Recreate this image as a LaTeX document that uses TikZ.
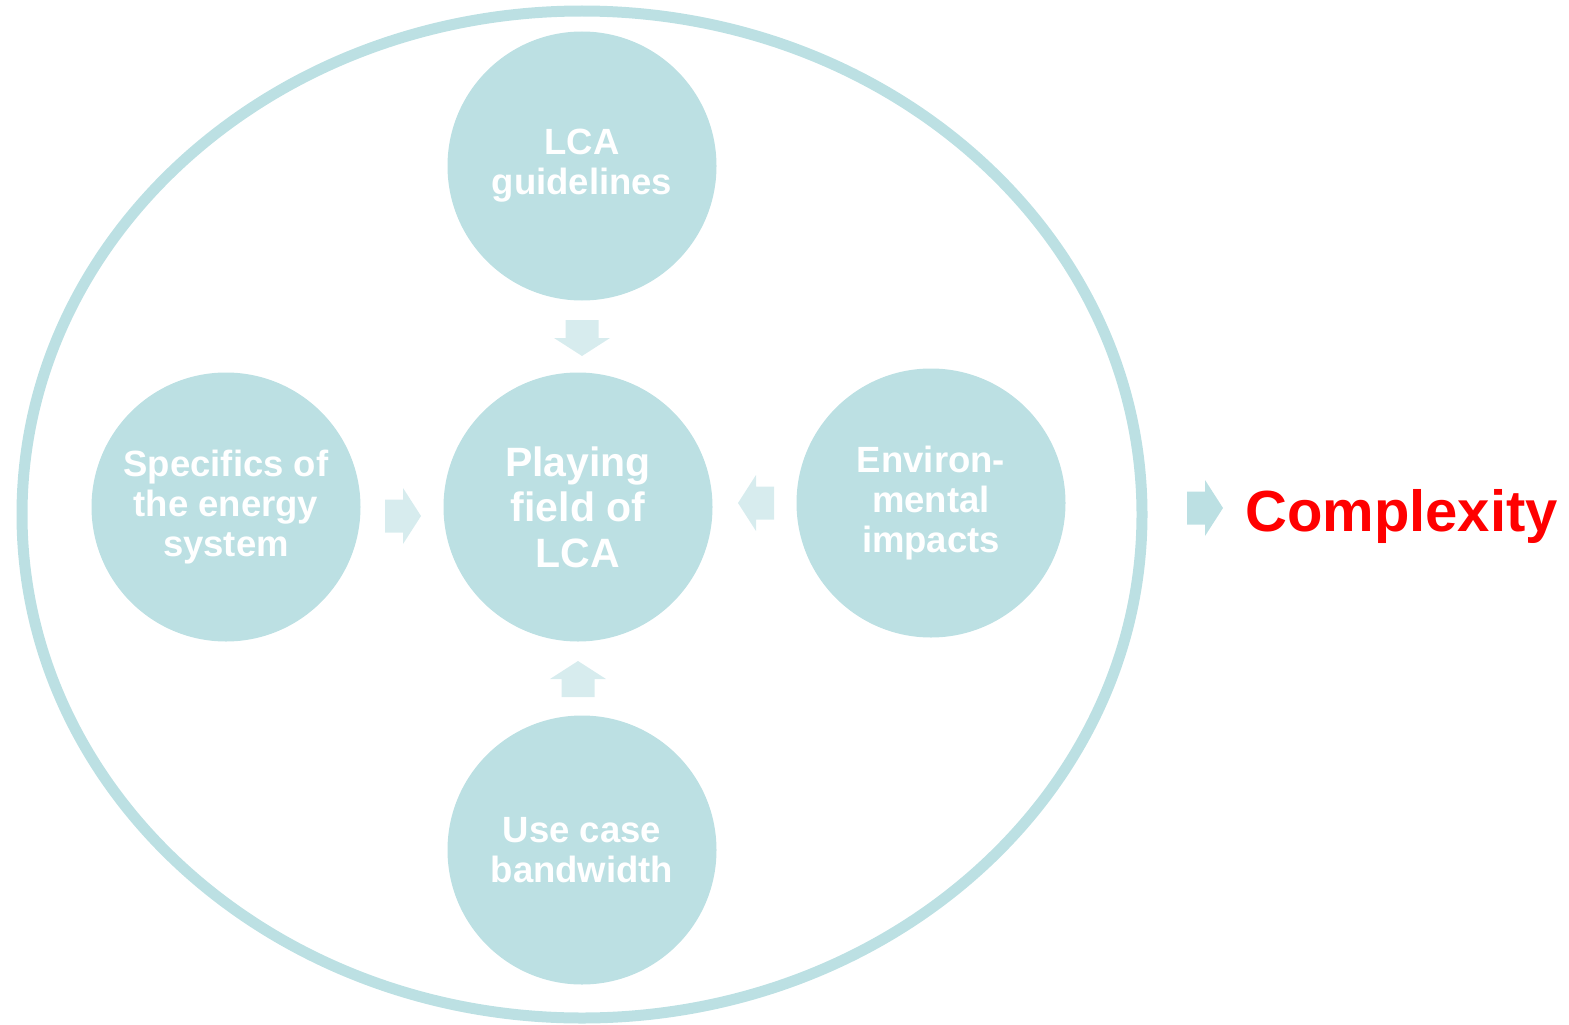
\documentclass[tikz,border=0pt]{standalone}
\usepackage{fontspec}
\setmainfont{Liberation Sans}
\definecolor{circc}{HTML}{BCE0E3}
\definecolor{arrc}{HTML}{D7ECEE}
\definecolor{redc}{HTML}{FF0000}
\tikzset{
  bubble/.style={circle, fill=circc, minimum size=269pt, inner sep=0pt, text=white,
    align=center, font=\fontsize{36.5}{40}\selectfont\bfseries},
  bigbubble/.style={bubble, font=\fontsize{41}{45.5}\selectfont\bfseries},
  blockarrow/.pic={
    \fill[pic actions] (0,0) -- (-18,28) -- (-18,16.5) -- (-36,16.5) -- (-36,-16.5) -- (-18,-16.5) -- (-18,-28) -- cycle;
  }
}
\begin{document}
\begin{tikzpicture}[x=1pt,y=-1pt]
\useasboundingbox (0,0) rectangle (1569,1025);
\draw[line width=11pt, color=circc] (582,514.5) ellipse [x radius=560pt, y radius=503.5pt];
\node[bubble] (top) at (582,166) {LCA\\guidelines};
\node[bigbubble] (center) at (578,507) {Playing\\field of\\LCA};
\node[bubble] (left) at (226,507) {Specifics of\\the energy\\system};
\node[bubble] (right) at (931,503) {Environ-\\mental\\impacts};
\node[bubble] (bottom) at (582,850) {Use case\\bandwidth};
\pic[fill=arrc, rotate=-90] at (582,356) {blockarrow};
\pic[fill=arrc] at (421,516) {blockarrow};
\pic[fill=arrc, rotate=180] at (738,503) {blockarrow};
\pic[fill=arrc, rotate=90] at (578,661) {blockarrow};
\pic[fill=circc] at (1223,508) {blockarrow};
\node[anchor=base west, inner sep=0pt, text=redc, font=\fontsize{58}{60}\selectfont\bfseries] (cx) at (1245,531) {Complexity};
\end{tikzpicture}
\end{document}
